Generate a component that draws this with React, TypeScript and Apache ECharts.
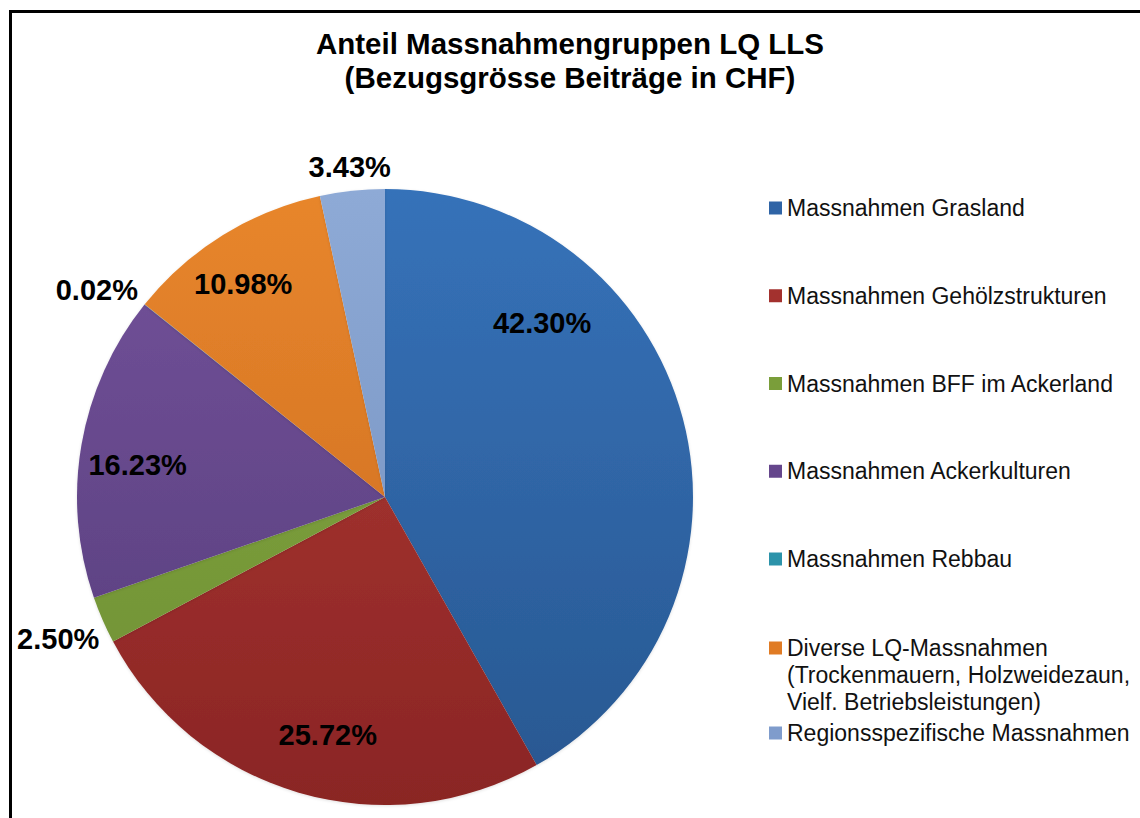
import React, { useEffect, useRef } from "react";
import * as echarts from "echarts";

const titleLines = ["Anteil Massnahmengruppen LQ LLS", "(Bezugsgrösse Beiträge in CHF)"];

const categories = [
  "Massnahmen Grasland",
  "Massnahmen Gehölzstrukturen",
  "Massnahmen BFF im Ackerland",
  "Massnahmen Ackerkulturen",
  "Massnahmen Rebbau",
  "Diverse LQ-Massnahmen\n(Trockenmauern, Holzweidezaun,\nVielf. Betriebsleistungen)",
  "Regionsspezifische Massnahmen",
];

const shares = [42.3, 25.72, 2.5, 16.23, 0.02, 10.98, 3.43];

const labelPlacement = ["inside", "inside", "outside", "inside", "outside", "inside", "outside"];
const labelAngleFraction = [0.28, 0.47, 0.5, 0.46, 0.5, 0.45, 0.5];
const labelAngleOffset = [0, 0, 0, 0, -3, 0, 0];
const labelRadiusFraction = [0.76, 0.795, 1, 0.81, 1, 0.83, 1];

const topColors = ["#3672b9", "#b23b36", "#86aa42", "#74539b", "#32a0b6", "#e8862c", "#8eaad6"];
const bottomColors = ["#285790", "#8a2524", "#6d8e33", "#553b7a", "#267f92", "#c8691f", "#6f8cbb"];
const legendColors = ["#2f64a6", "#a3312e", "#7a9e3a", "#65468c", "#2c93aa", "#e07b24", "#7f9ccc"];

const CX = 385;
const CY = 497;
const R = 308;

const FONT = 'Arial, "Liberation Sans", Helvetica, sans-serif';

export default function App() {
  const ref = useRef<HTMLDivElement>(null);

  useEffect(() => {
    if (!ref.current) return;
    const chart = echarts.init(ref.current, undefined, { renderer: "svg" });

    const total = shares.reduce((a, b) => a + b, 0);
    const starts: number[] = [];
    const spans: number[] = [];
    let acc = 0;
    shares.forEach((v) => {
      starts.push((acc / total) * 360);
      spans.push((v / total) * 360);
      acc += v;
    });

    const data = categories.map((name, i) => ({
      name,
      value: shares[i],
      itemStyle: {
        color: {
          type: "linear",
          x: 0,
          y: CY - R,
          x2: 0,
          y2: CY + R,
          global: true,
          colorStops: [
            { offset: 0, color: topColors[i] },
            { offset: 1, color: bottomColors[i] },
          ],
        },
      },
      label: { position: labelPlacement[i] },
    }));

    const legendText = {
      fontFamily: FONT,
      fontSize: 23,
      lineHeight: 27,
      color: "#111111",
    };
    const legendItem = (i: number) => ({ name: categories[i], itemStyle: { color: legendColors[i] } });

    chart.setOption({
      animation: false,
      backgroundColor: "#ffffff",
      title: {
        text: titleLines.join("\n"),
        left: "center",
        top: 26,
        padding: 0,
        textStyle: {
          fontFamily: FONT,
          fontSize: 29.5,
          fontWeight: "bold",
          lineHeight: 34,
          color: "#000000",
        },
      },
      legend: [
        {
          orient: "vertical",
          left: 769,
          top: 194.5,
          padding: 0,
          itemGap: 60.75,
          itemWidth: 13,
          itemHeight: 13,
          icon: "rect",
          selectedMode: false,
          textStyle: legendText,
          data: [0, 1, 2, 3, 4].map(legendItem),
        },
        {
          orient: "vertical",
          left: 769,
          top: 580.5,
          padding: 0,
          itemWidth: 13,
          itemHeight: 13,
          icon: "rect",
          selectedMode: false,
          textStyle: legendText,
          formatter: (name: string) => "\n\n" + name,
          data: [5].map(legendItem),
        },
        {
          orient: "vertical",
          left: 769,
          top: 719.5,
          padding: 0,
          itemWidth: 13,
          itemHeight: 13,
          icon: "rect",
          selectedMode: false,
          textStyle: legendText,
          data: [6].map(legendItem),
        },
      ],
      graphic: [
        {
          type: "rect",
          shape: { x: 10.5, y: 11.5, width: 1200, height: 900 },
          style: { fill: "none", stroke: "#000000", lineWidth: 3 },
          silent: true,
          z: 100,
        },
      ],
      series: [
        {
          type: "pie",
          center: [CX, CY],
          radius: R,
          startAngle: 90,
          clockwise: true,
          avoidLabelOverlap: false,
          minShowLabelAngle: 0,
          data,
          itemStyle: {
            shadowBlur: 3,
            shadowColor: "rgba(0,0,0,0.12)",
            shadowOffsetY: 1,
          },
          label: {
            show: true,
            fontFamily: FONT,
            fontSize: 29,
            fontWeight: "bold",
            color: "#000000",
            formatter: (p: any) => p.value.toFixed(2) + "%",
          },
          labelLine: { show: false },
          labelLayout: (params: any) => {
            const i = params.dataIndex;
            const deg = starts[i] + labelAngleFraction[i] * spans[i] + labelAngleOffset[i];
            const a = (deg * Math.PI) / 180;
            const sx = Math.sin(a);
            const sy = -Math.cos(a);
            let d: number;
            if (labelPlacement[i] === "inside") {
              d = R * labelRadiusFraction[i];
            } else {
              const w = params.labelRect.width;
              const h = params.labelRect.height;
              d = R * labelRadiusFraction[i] + 5 + (Math.abs(sx) * w) / 2 + (Math.abs(sy) * h) / 2;
            }
            return {
              x: CX + sx * d,
              y: CY + sy * d,
              align: "center",
              verticalAlign: "middle",
            };
          },
          emphasis: { disabled: true },
        },
      ],
    });

    return () => chart.dispose();
  }, []);

  return (
    <div
      ref={ref}
      style={{ position: "absolute", left: 0, top: 0, width: 1140, height: 818 }}
    />
  );
}
